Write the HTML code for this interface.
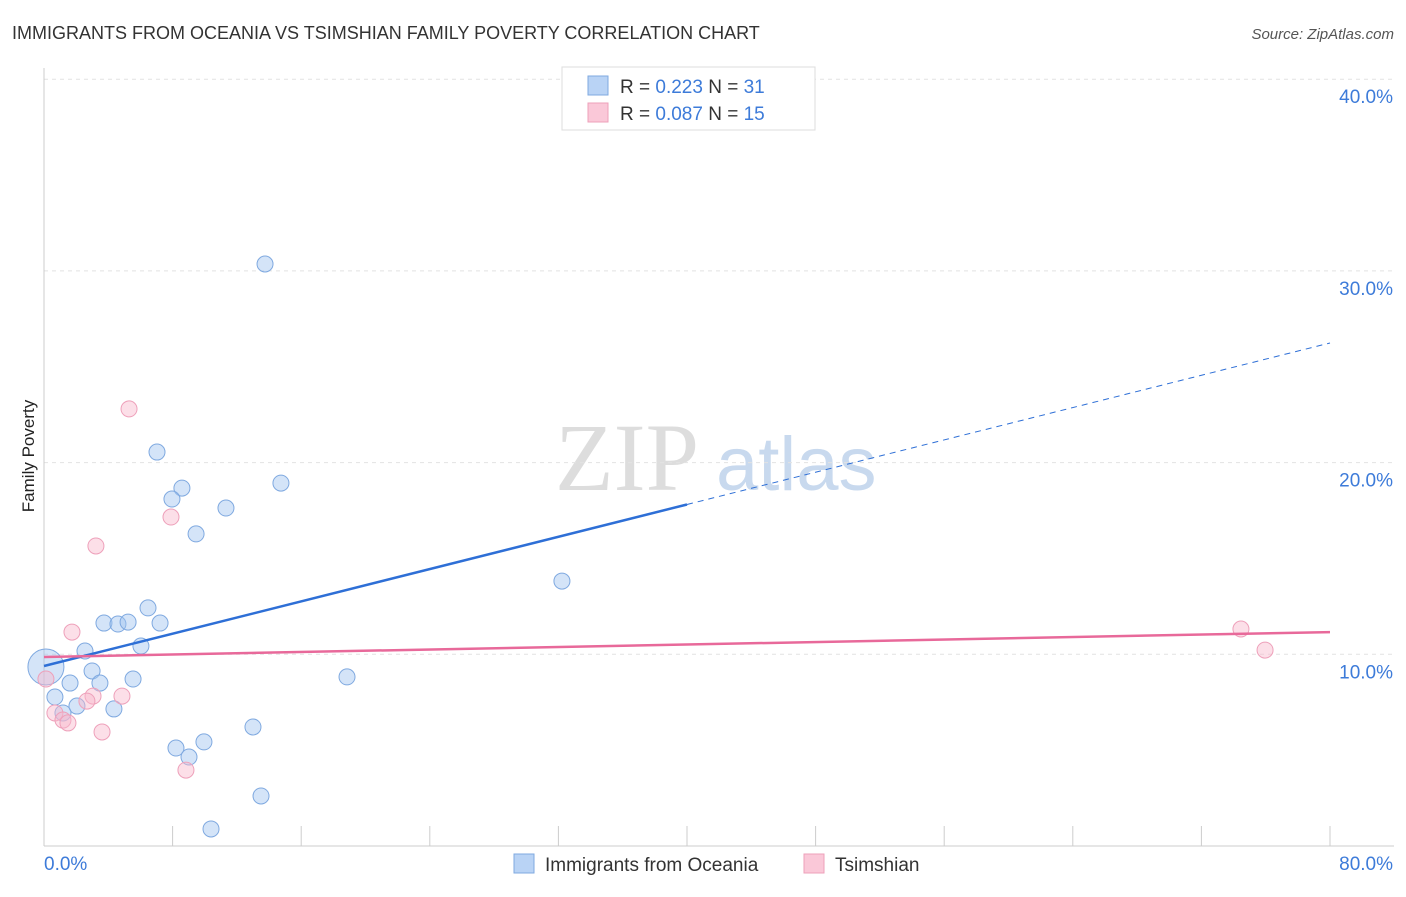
<!DOCTYPE html>
<html><head><meta charset="utf-8"><style>
body{margin:0;background:#fff;font-family:"Liberation Sans",sans-serif}
</style></head><body>
<svg id="c" width="1406" height="892" xmlns="http://www.w3.org/2000/svg">
<text x="12" y="39" font-size="18" fill="#333">IMMIGRANTS FROM OCEANIA VS TSIMSHIAN FAMILY POVERTY CORRELATION CHART</text>
<text x="1394" y="39" font-size="15" fill="#555" font-style="italic" text-anchor="end">Source: ZipAtlas.com</text>
<text x="34" y="456" font-size="17" fill="#222" transform="rotate(-90 34 456)" text-anchor="middle">Family Poverty</text>
<text x="555" y="490" font-size="96" fill="#ddd" font-family="Liberation Serif">ZIP</text>
<text x="716" y="490" font-size="76" fill="#c8d9ee">atlas</text>
<g id="grid"></g><g id="marks"></g>
<g>
<rect x="562" y="67" width="253" height="63" fill="#fff" stroke="#ddd"/>
<rect x="588" y="76" width="20" height="19" fill="#b9d3f5" stroke="#7fa9e0"/>
<rect x="588" y="103" width="20" height="19" fill="#fac8d8" stroke="#eea0ba"/>
<text x="620" y="93" font-size="19" fill="#333">R = <tspan fill="#3d7bd9">0.223</tspan>    N = <tspan fill="#3d7bd9">31</tspan></text>
<text x="620" y="120" font-size="19" fill="#333">R = <tspan fill="#3d7bd9">0.087</tspan>    N = <tspan fill="#3d7bd9">15</tspan></text>
</g>
<g>
<rect x="514" y="854" width="20" height="19" fill="#b9d3f5" stroke="#7fa9e0"/>
<text x="545" y="871" font-size="19" fill="#333">Immigrants from Oceania</text>
<rect x="804" y="854" width="20" height="19" fill="#fac8d8" stroke="#eea0ba"/>
<text x="835" y="871" font-size="19" fill="#333">Tsimshian</text>
</g>
</svg>
<script>
const blueX=[0.12,13.75,7.03,8.58,7.96,14.74,11.32,9.46,32.22,6.47,3.73,4.60,5.23,7.22,6.03,2.55,2.99,18.85,5.54,1.62,3.48,0.68,2.05,4.35,1.18,13.00,9.95,8.21,9.02,13.50,10.39];
const blueY=[9.34,30.36,20.55,18.67,18.10,18.93,17.63,16.28,13.82,12.42,11.63,11.58,11.68,11.63,10.43,10.17,9.13,8.82,8.71,8.50,8.50,7.77,7.30,7.15,6.94,6.21,5.43,5.11,4.64,2.61,0.89];
const pinkX=[5.29,7.90,3.23,1.74,74.46,75.96,0.12,4.85,3.05,2.67,0.68,1.18,1.49,3.61,8.83];
const pinkY=[22.80,17.16,15.65,11.16,11.32,10.22,8.71,7.82,7.82,7.56,6.94,6.57,6.42,5.95,3.96];
const yTicks=[10,20,30,40];
const yTickLabels=["10.0%","20.0%","30.0%","40.0%"];
const blueTrend=[9.39,26.24];
const pinkTrend=[9.86,11.16];
const ns="http://www.w3.org/2000/svg";
const sx=v=>44+v*(1286/80), sy=v=>846-v*19.17;
function mk(t,a,p){const e=document.createElementNS(ns,t);for(const k in a)e.setAttribute(k,a[k]);p.appendChild(e);return e;}
const g=document.getElementById('grid'),m=document.getElementById('marks');
yTicks.forEach((t,i)=>{
 const l=mk('line',{x1:44,x2:1394,y1:sy(t),y2:sy(t),stroke:'#e2e2e2','stroke-dasharray':'4,4'},g);
 
 
 const tx=mk('text',{x:1393,y:sy(t)+24,'font-size':19,fill:'#3d7bd9','text-anchor':'end'},g);
 tx.textContent=yTickLabels[i];
 
 
});
const ax=mk('line',{x1:44,x2:44,y1:68,y2:846,stroke:'#ccc'},g);


const bx=mk('line',{x1:44,x2:1394,y1:846,y2:846,stroke:'#ccc'},g);


for(let i=0;i<=10;i++){const t=mk('line',{x1:sx(i*8),x2:sx(i*8),y1:826,y2:846,stroke:'#ccc'},g);
 
 }
[["0.0%",44,'start'],["80.0%",1393,'end']].forEach(a=>{const t=mk('text',{x:a[1],y:870,'font-size':19,fill:'#3d7bd9','text-anchor':a[2]},g);t.textContent=a[0];
 
 });
blueX.forEach((x,i)=>{const c=mk('circle',{cx:sx(x),cy:sy(blueY[i]),r:i==0?18:8,fill:'rgba(160,195,240,0.45)',stroke:'#7fa9e0','stroke-width':1},m);
 
 });
pinkX.forEach((x,i)=>{const c=mk('circle',{cx:sx(x),cy:sy(pinkY[i]),r:8,fill:'rgba(248,185,205,0.45)',stroke:'#eea0ba','stroke-width':1},m);
 
 });
const bm=blueTrend[0]+(blueTrend[1]-blueTrend[0])*0.5;
const l1=mk('line',{x1:sx(0),y1:sy(blueTrend[0]),x2:sx(40),y2:sy(bm),stroke:'#2e6fd6','stroke-width':2.5},m);


const l2=mk('line',{x1:sx(40),y1:sy(bm),x2:sx(80),y2:sy(blueTrend[1]),stroke:'#2e6fd6','stroke-width':1,'stroke-dasharray':'6,5'},m);


const l3=mk('line',{x1:sx(0),y1:sy(pinkTrend[0]),x2:sx(80),y2:sy(pinkTrend[1]),stroke:'#e8699a','stroke-width':2.5},m);


</script>
</body></html>
